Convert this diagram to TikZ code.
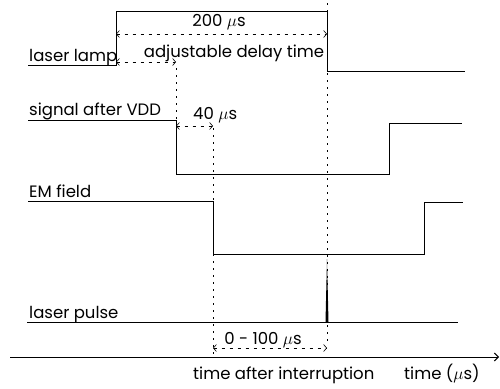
\documentclass[tikz,border=0pt]{standalone}
\usepackage{fontspec}
\setmainfont{Poppins}
\usetikzlibrary{arrows.meta,positioning}
\tikzset{
  sig/.style={line width=1pt,black},
  vd/.style={line width=0.6pt,dash pattern=on 2pt off 5pt},
  dar/.style={line width=0.6pt,dash pattern=on 3pt off 5pt,
    {Straight Barb[length=3pt,width=7pt]}-{Straight Barb[length=3pt,width=7pt]}},
  lbl/.style={font=\fontsize{16.5}{18}\selectfont,inner sep=0pt,anchor=base west},
  tl/.style={font=\fontsize{16.5}{18}\selectfont,inner sep=0pt,anchor=base}
}
\begin{document}
\begin{tikzpicture}[x=1pt,y=-1pt]
\useasboundingbox (0,0) rectangle (500,388);
% time marks
\coordinate (tA) at (116,0);
\coordinate (tB) at (176,0);
\coordinate (tC) at (213,0);
\coordinate (tD) at (327,0);
% waveforms
\draw[sig] (28,65) -- (116,65) -- (116,11) -- (327,11) -- (327,71) -- (465,71);
\draw[sig] (28,120) -- (176,120) -- (176,174) -- (389,174) -- (389,123) -- (462,123);
\draw[sig] (28,201) -- (213,201) -- (213,254) -- (424,254) -- (424,202) -- (463,202);
\draw[sig] (27,322) -- (458,322);
\fill (325.5,322) -- (327,259) -- (328.5,322) -- cycle;
% time axis
\draw[sig,-{Straight Barb[length=4pt,width=8pt]}] (10,357) -- (499,357);
% guide lines
\draw[vd] (tB |- 0,68) -- (tB |- 0,120);
\draw[vd] (tC |- 0,128) -- (tC |- 0,357);
\draw[vd] (tD |- 0,3) -- (tD |- 0,345);
% dimension arrows
\draw[dar] (tA |- 0,34) -- (tD |- 0,34);
\draw[dar] (tA |- 0,62) -- (tB |- 0,62);
\draw[dar] (tB |- 0,126) -- (tC |- 0,126);
\draw[dar] (tC |- 0,348) -- (tD |- 0,348);
% labels
\node[lbl] (lamp) at (29,61) {laser lamp};
\node[lbl] (vdd) at (29,115) {signal after VDD};
\node[lbl] (em) at (29,197) {EM field};
\node[lbl] (pulse) at (29,318) {laser pulse};
\node[tl] (d200) at (219,27) {200 $\mu$s};
\node[tl] (delay) at (234,57) {adjustable delay time};
\node[lbl] (d40) at (193,119) {40 $\mu$s};
\node[tl] (d100) at (263,344) {0 - 100 $\mu$s};
\node[lbl] (tai) at (193,379) {time after interruption};
\node[lbl] (tus) at (404,379) {time ($\mu$s)};
\end{tikzpicture}
\end{document}
